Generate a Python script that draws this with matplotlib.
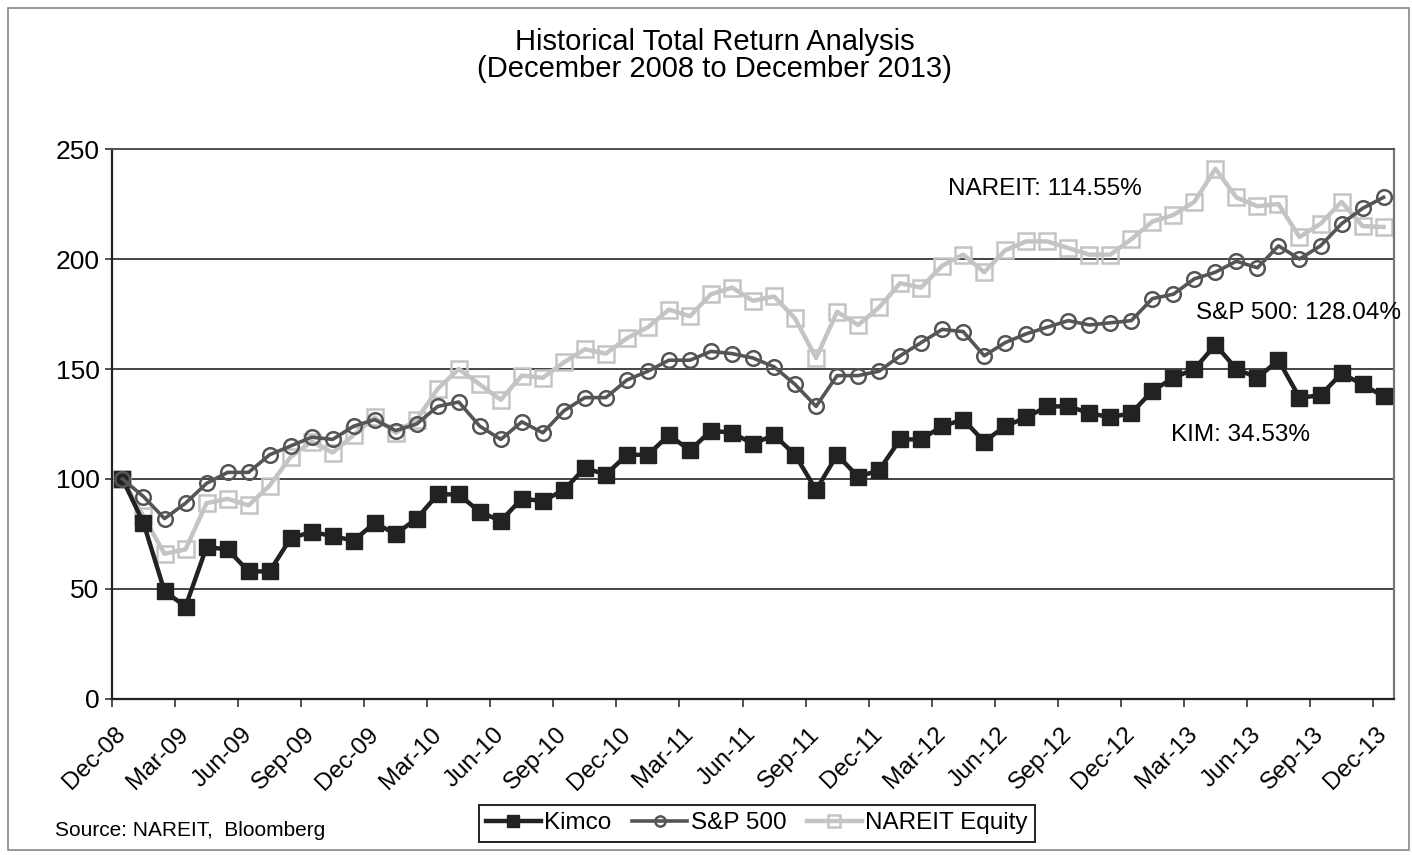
import matplotlib.pyplot as plt
from matplotlib.patches import Rectangle
import numpy as np

plt.rcParams['font.family'] = ['Liberation Sans', 'DejaVu Sans']

# monthly total return index, Dec-08 = 100
kimco = [100, 80, 49, 42, 69, 68, 58, 58, 73, 76, 74, 72, 80, 75, 82,
         93, 93, 85, 81, 91, 90, 95, 105, 102, 111, 111, 120, 113, 122, 121,
         116, 120, 111, 95, 111, 101, 104, 118, 118, 124, 127, 117, 124, 128, 133,
         133, 130, 128, 130, 140, 146, 150, 161, 150, 146, 154, 137, 138, 148, 143, 137.5]
sp500 = [100, 92, 82, 89, 98, 103, 103, 111, 115, 119, 118, 124, 127, 122, 125,
         133, 135, 124, 118, 126, 121, 131, 137, 137, 145, 149, 154, 154, 158, 157,
         155, 151, 143, 133, 147, 147, 149, 156, 162, 168, 167, 156, 162, 166, 169,
         172, 170, 171, 172, 182, 184, 191, 194, 199, 196, 206, 200, 206, 216, 223, 228.04]
nareit = [100, 83, 66, 68, 89, 91, 88, 97, 110, 117, 112, 120, 128, 121, 127,
          141, 150, 143, 136, 147, 146, 153, 159, 157, 164, 169, 177, 174, 184, 187,
          181, 183, 173, 155, 176, 170, 178, 189, 187, 197, 202, 194, 204, 208, 208,
          205, 202, 202, 209, 217, 220, 226, 241, 228, 224, 225, 210, 216, 226, 215, 214.55]

tick_labels = ['Dec-08', 'Mar-09', 'Jun-09', 'Sep-09', 'Dec-09', 'Mar-10', 'Jun-10',
               'Sep-10', 'Dec-10', 'Mar-11', 'Jun-11', 'Sep-11', 'Dec-11', 'Mar-12',
               'Jun-12', 'Sep-12', 'Dec-12', 'Mar-13', 'Jun-13', 'Sep-13', 'Dec-13']

x = np.arange(len(kimco))

fig = plt.figure(figsize=(14.12, 8.55), dpi=100)
ax = fig.add_axes([0.0793, 0.1825, 0.908, 0.6432])

ax.plot(x, kimco, color='#222222', lw=3.2, marker='s', ms=12,
        mfc='#222222', mec='#222222', label='Kimco', zorder=3)
ax.plot(x, sp500, color='#555555', lw=2.6, marker='o', ms=10.5,
        mfc='none', mec='#555555', mew=1.8, label='S&P 500', zorder=4)
ax.plot(x, nareit, color='#c4c4c4', lw=3.2, marker='s', ms=11.5,
        mfc='none', mec='#c4c4c4', mew=1.8, label='NAREIT Equity', zorder=2)

# category axis: points sit between the tick marks
ax.set_xlim(-0.5, len(kimco) - 0.5)
ax.set_ylim(0, 250)
ax.set_yticks(np.arange(0, 251, 50))
ax.tick_params(axis='y', labelsize=19, length=5, width=1.2, color='#333333', pad=4)
ax.set_xticks(x[::3])
ax.set_xticks(x[::3] - 0.5, minor=True)
ax.set_xticklabels(tick_labels, rotation=45, ha='right', va='center',
                   rotation_mode='anchor')
ax.tick_params(axis='x', which='major', labelsize=17.5, length=0, pad=23)
ax.tick_params(axis='x', which='minor', length=6, width=1.2, color='#333333')

ax.grid(axis='y', color='#444444', lw=1.4)
ax.set_axisbelow(True)
for s in ['left', 'bottom']:
    ax.spines[s].set_color('#222222')
    ax.spines[s].set_linewidth(1.6)
ax.spines['right'].set_color('#777777')
ax.spines['right'].set_linewidth(1.6)
ax.spines['top'].set_color('#555555')
ax.spines['top'].set_linewidth(1.4)

# end-of-period labels
ax.text(39.3, 232, 'NAREIT: 114.55%', fontsize=17.5, va='center', ha='left')
ax.text(51.1, 175.5, 'S&P 500: 128.04%', fontsize=17.5, va='center', ha='left', clip_on=False)
ax.text(49.9, 120, 'KIM: 34.53%', fontsize=17.5, va='center', ha='left')

fig.text(0.506, 0.935, 'Historical Total Return Analysis\n(December 2008 to December 2013)',
         ha='center', va='center', fontsize=21, linespacing=0.95)
fig.text(0.039, 0.029, 'Source: NAREIT,  Bloomberg', fontsize=15, va='center', ha='left')

leg = fig.legend(loc='center', bbox_to_anchor=(0.536, 0.037), ncol=3, fontsize=17.5,
                 handlelength=2.25, handletextpad=0.15, columnspacing=0.85,
                 markerscale=0.7, borderpad=0.3, fancybox=False,
                 edgecolor='#222222', framealpha=1)
leg.get_frame().set_linewidth(1.4)

fig.patches.append(Rectangle((0.006, 0.006), 0.992, 0.985, transform=fig.transFigure,
                             fill=False, edgecolor='#888888', lw=1.2))

fig.savefig('out.png', dpi=100)
